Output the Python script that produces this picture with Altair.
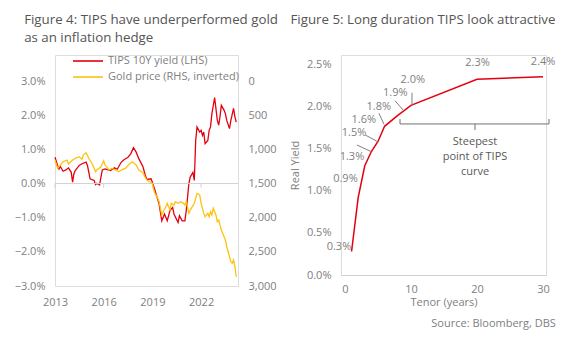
import altair as alt
import pandas as pd

FONT = "Open Sans"
RED = "#E3000F"
GOLD = "#FFC20E"
TXT = "#808080"
TITLE_C = "#555555"
AXIS_C = "#d0d0d0"

# ---------------- Figure 4 data ----------------
tips_dates = ["2013-01", "2013-03", "2013-04", "2013-05", "2013-07", "2013-09", "2013-11",
              "2014-01", "2014-02", "2014-03", "2014-04", "2014-07", "2014-09", "2014-12",
              "2015-01", "2015-02", "2015-03", "2015-06", "2015-07", "2015-08", "2015-10",
              "2015-11", "2015-12", "2016-02", "2016-06", "2016-09", "2016-11",
              "2017-02", "2017-04", "2017-07", "2017-09", "2017-11",
              "2018-01", "2018-03", "2018-06", "2018-08", "2018-09", "2018-12",
              "2019-01", "2019-03", "2019-06", "2019-08", "2019-10", "2019-12",
              "2020-02", "2020-04", "2020-05", "2020-08", "2020-09", "2020-11",
              "2021-01", "2021-02", "2021-04", "2021-05", "2021-07", "2021-08", "2021-09",
              "2021-10", "2021-12", "2022-01", "2022-02", "2022-03", "2022-04", "2022-06",
              "2022-07", "2022-08", "2022-09", "2022-11",
              "2023-01", "2023-02", "2023-03", "2023-04", "2023-06", "2023-07", "2023-08",
              "2023-10", "2023-11", "2024-01", "2024-02", "2024-03"]
tips_yield = [0.77, 0.53, 0.43, 0.50, 0.36, 0.40, 0.46,
              0.33, 0.04, 0.28, 0.38, 0.53, 0.58, 0.63,
              0.53, 0.33, 0.14, 0.09, -0.03, 0.01, -0.04,
              0.19, 0.40, 0.43, 0.38, 0.46, 0.42,
              0.63, 0.70, 0.77, 0.87, 1.05,
              0.92, 0.73, 0.50, 0.21, 0.12, 0.14,
              0.04, -0.20, -0.60, -1.09, -0.89, -1.09,
              -0.79, -0.70, -0.89, -1.14, -0.94, -1.09,
              -1.09, -0.79, 0.00, 0.19, 0.33, 0.09, 1.26,
              1.66, 1.51, 1.56, 1.41, 1.51, 1.17, 1.26,
              1.56, 1.66, 2.05, 2.52,
              1.85, 1.71, 1.95, 2.29, 2.15, 2.05, 1.85,
              1.61, 1.85, 2.20, 1.95, 1.80]

gold_dates = ["2013-01", "2013-03", "2013-05", "2013-07", "2013-10", "2013-11",
              "2014-02", "2014-04", "2014-07", "2014-09", "2014-10", "2014-12",
              "2015-02", "2015-05", "2015-07", "2015-08", "2015-11",
              "2016-01", "2016-02", "2016-05", "2016-07", "2016-10", "2016-12",
              "2017-03", "2017-05", "2017-08", "2017-10",
              "2018-01", "2018-03", "2018-06", "2018-08", "2018-09",
              "2019-01", "2019-02", "2019-03", "2019-05", "2019-06", "2019-07", "2019-08",
              "2019-09", "2019-11", "2019-12",
              "2020-02", "2020-03", "2020-05", "2020-06", "2020-08", "2020-10", "2020-12",
              "2021-01", "2021-02", "2021-04", "2021-05", "2021-08", "2021-10", "2021-12",
              "2022-01", "2022-02", "2022-03", "2022-04", "2022-06", "2022-07", "2022-08",
              "2022-09", "2022-10", "2022-12",
              "2023-01", "2023-02", "2023-04", "2023-07", "2023-08", "2023-11", "2023-12",
              "2024-01", "2024-02", "2024-03"]
gold_price = [1156, 1278, 1229, 1181, 1156, 1215,
              1156, 1131, 1107, 1146, 1083, 1049,
              1131, 1229, 1327, 1302, 1254,
              1166, 1229, 1302, 1278, 1302, 1327,
              1293, 1278, 1215, 1181,
              1229, 1302, 1340, 1420, 1449,
              1498, 1595, 1644, 1717, 1766, 1863, 1961,
              1912, 1839, 1790,
              1888, 1790, 1815, 1766, 1790, 1766, 1790,
              1815, 1766, 1937, 1888, 1790, 1644, 1668,
              1790, 1863, 1937, 1986, 1937, 1986, 1912,
              1961, 1863, 1961,
              2059, 2034, 2181, 2327, 2425, 2644, 2668,
              2620, 2717, 2864]

x_tick_years = [2013, 2016, 2019, 2022]
tips_ticks = [-3, -2, -1, 0, 1, 2, 3]
gold_ticks = [0, 500, 1000, 1500, 2000, 2500, 3000]

# ---------------- Figure 5 data ----------------
tenor = [1, 2, 3, 4, 5, 6, 8, 10, 20, 30]
real_yield = [0.28, 0.92, 1.30, 1.47, 1.59, 1.77, 1.90, 2.02, 2.33, 2.36]
yield_labels = ["0.3%", "0.9%", "1.3%", "1.5%", "1.6%", "1.8%", "1.9%", "2.0%", "2.3%", "2.4%"]
tenor_ticks = [0, 5, 10, 15, 20, 25, 30]
ry_ticks = [0, 0.5, 1.0, 1.5, 2.0, 2.5]

# ---------------- layout / annotation settings ----------------
WL, HL = 183, 231
XL_DOMAIN = [alt.DateTime(year=2013, month=1, date=1), alt.DateTime(year=2024, month=4, date=10)]
YL_DOMAIN = [-3, 3.765]
GL_DOMAIN = [-382, 3000]

WR, HR = 205, 220
XR_DOMAIN = [-0.6, 30.45]
YR_DOMAIN = [0, 2.619]
PX_T = WR / (XR_DOMAIN[1] - XR_DOMAIN[0])
PX_Y = HR / (YR_DOMAIN[1] - YR_DOMAIN[0])

# label offsets from their point, in pixels (screen y down)
label_dx = [-12.6, -12.7, -12.8, -17.3, -14.2, -5.8, -2.5, 1.8, 0.6, 0.1]
label_dy = [-4.5, -18.7, -8.8, -18.5, -21.4, -19.3, -22.4, -25.3, -16.0, -14.8]
# leader lines: (point index, start dx, start dy, end dx, end dy) in pixels
leaders = [(2, -7.8, -20.8, 6.5, -14.1), (3, -6.0, -16.5, 6.4, -9.8),
           (5, -5.6, -13.0, -0.6, -2.0), (6, -2.8, -14.7, 5.9, -4.7),
           (7, 1.0, -12.6, 1.0, -0.3)]
bracket_x = (8.34, 19.7, 30.9)
bracket_y = (1.798, 1.857, 1.726)
note_pos = (19.7, 1.587)

# ---------------- Figure 4 ----------------
tips_df = pd.DataFrame({"date": tips_dates, "v": tips_yield, "series": "TIPS 10Y yield (LHS)"})
gold_df = pd.DataFrame({"date": gold_dates, "v": gold_price, "series": "Gold price (RHS, inverted)"})
series_names = ["TIPS 10Y yield (LHS)", "Gold price (RHS, inverted)"]

xs = alt.Scale(domain=XL_DOMAIN)
ysl = alt.Scale(domain=YL_DOMAIN, nice=False, zero=False)
ysg = alt.Scale(domain=GL_DOMAIN, nice=False, zero=False, reverse=True)
color = alt.Color("series:N", scale=alt.Scale(domain=series_names, range=[RED, GOLD]),
                  legend=alt.Legend(title=None, orient="none", legendX=17, legendY=-2,
                                    symbolType="stroke", symbolSize=900, symbolStrokeWidth=1.6,
                                    labelFontSize=11, labelColor=TXT, labelFont=FONT,
                                    labelOffset=4, clipHeight=16, rowPadding=0, padding=0))

x_axis = alt.Axis(values=[alt.DateTime(year=y, month=1, date=1) for y in x_tick_years],
                  format="%Y", domain=False, ticks=False, grid=False, labelPadding=10,
                  labelFlush=False, title=None, labelColor=TXT, labelFontSize=11, labelFont=FONT)
yl_axis = alt.Axis(values=tips_ticks, labelExpr="format(datum.value, '.1f') + '%'",
                   domain=False, ticks=False, grid=False, title=None,
                   labelPadding=10, labelColor=TXT, labelFontSize=11, labelFont=FONT)
yg_axis = alt.Axis(orient="right", values=gold_ticks, labelExpr="format(datum.value, ',')",
                   domain=False, ticks=False, grid=False, title=None,
                   labelPadding=10, labelColor=TXT, labelFontSize=11, labelFont=FONT)

red_line = alt.Chart(tips_df).mark_line(strokeWidth=1.3).encode(
    x=alt.X("date:T", scale=xs, axis=x_axis),
    y=alt.Y("v:Q", scale=ysl, axis=yl_axis),
    color=color)

zero_df = pd.DataFrame({"year": [str(y) + "-01-01" for y in x_tick_years]})
zero_rule = alt.Chart(pd.DataFrame({"a": [0]})).mark_rule(color=AXIS_C, strokeWidth=1).encode(
    x=alt.value(0), x2=alt.value(WL), y=alt.Y("a:Q", scale=ysl, axis=yl_axis))
zero_ticks = alt.Chart(zero_df).transform_calculate(a="0", b="-0.12").mark_rule(color=AXIS_C).encode(
    x=alt.X("year:T", scale=xs, axis=x_axis), y=alt.Y("a:Q", scale=ysl, axis=yl_axis), y2="b:Q")

gold_line = alt.Chart(gold_df).mark_line(strokeWidth=1.3).encode(
    x=alt.X("date:T", scale=xs, axis=x_axis),
    y=alt.Y("v:Q", scale=ysg, axis=yg_axis),
    color=color)

left = alt.layer(
    alt.layer(red_line, zero_rule, zero_ticks),
    gold_line,
).resolve_scale(y="independent").properties(
    width=WL, height=HL,
    title=alt.TitleParams(["Figure 4: TIPS have underperformed gold", "as an inflation hedge"],
                          anchor="start", fontSize=13.3, font=FONT, fontWeight="normal",
                          color=TITLE_C, offset=11, dx=10, lineHeight=18))

# ---------------- Figure 5 ----------------
curve_df = pd.DataFrame({"t": tenor, "y": real_yield, "lab": yield_labels})
curve_df["lx"] = [t + dx / PX_T for t, dx in zip(tenor, label_dx)]
curve_df["ly"] = [y - dy / PX_Y for y, dy in zip(real_yield, label_dy)]

lead_rows = []
for i, sx, sy, ex, ey in leaders:
    lead_rows.append({"x": tenor[i] + sx / PX_T, "y": real_yield[i] - sy / PX_Y,
                      "x2": tenor[i] + ex / PX_T, "y2": real_yield[i] - ey / PX_Y})
lead_df = pd.DataFrame(lead_rows)

bl, bc, br = bracket_x
yb, yup, ydn = bracket_y
brk_df = pd.DataFrame([
    {"x": bl, "y": yb, "x2": br, "y2": yb},
    {"x": bl, "y": yb, "x2": bl, "y2": yup},
    {"x": br, "y": yb, "x2": br, "y2": yup},
    {"x": bc, "y": yb, "x2": bc, "y2": ydn},
])
note_df = pd.DataFrame({"x": [note_pos[0]], "y": [note_pos[1]],
                        "txt": ["Steepest\npoint of TIPS\ncurve"]})

xsr = alt.Scale(domain=XR_DOMAIN, nice=False, zero=False)
ysr = alt.Scale(domain=YR_DOMAIN, nice=False, zero=False)

curve = alt.Chart(curve_df).mark_line(color=RED, strokeWidth=1.5).encode(
    x=alt.X("t:Q", scale=xsr, axis=alt.Axis(values=tenor_ticks, domain=True, domainColor=AXIS_C,
                                             ticks=False, grid=False, title="Tenor (years)",
                                             labelPadding=8, titlePadding=2, labelColor=TXT,
                                             titleColor=TXT, labelFontSize=11, titleFontSize=11,
                                             titleFontWeight="normal", labelFont=FONT, titleFont=FONT)),
    y=alt.Y("y:Q", scale=ysr, axis=alt.Axis(values=ry_ticks, labelExpr="format(datum.value, '.1f') + '%'",
                                             domain=False, ticks=False, grid=False, title="Real Yield",
                                             labelPadding=10, titlePadding=6, labelColor=TXT, titleColor=TXT,
                                             labelFontSize=11, titleFontSize=11, titleFontWeight="normal",
                                             labelFont=FONT, titleFont=FONT)))

labels = alt.Chart(curve_df).mark_text(font=FONT, fontSize=11, color=TXT, align="center",
                                       baseline="middle").encode(
    x=alt.X("lx:Q", scale=xsr), y=alt.Y("ly:Q", scale=ysr), text="lab:N")

lead = alt.Chart(lead_df).mark_rule(color=TXT, strokeWidth=1).encode(
    x=alt.X("x:Q", scale=xsr), y=alt.Y("y:Q", scale=ysr), x2="x2:Q", y2="y2:Q")

brk = alt.Chart(brk_df).mark_rule(color="#707070", strokeWidth=1).encode(
    x=alt.X("x:Q", scale=xsr), y=alt.Y("y:Q", scale=ysr), x2="x2:Q", y2="y2:Q")

note = alt.Chart(note_df).mark_text(font=FONT, fontSize=11, color="#595959", align="center",
                                    baseline="middle", lineBreak="\n", lineHeight=15).encode(
    x=alt.X("x:Q", scale=xsr), y=alt.Y("y:Q", scale=ysr), text="txt:N")

right = alt.layer(curve, lead, labels, brk, note).properties(
    width=WR, height=HR,
    title=alt.TitleParams("Figure 5: Long duration TIPS look attractive",
                          anchor="start", fontSize=13.3, font=FONT, fontWeight="normal",
                          color=TITLE_C, offset=29, dx=1, lineHeight=18))

chart = alt.hconcat(left, right, spacing=9).properties(
    padding={"left": 13, "top": 12, "right": 5, "bottom": 5},
    title=alt.TitleParams("Source: Bloomberg, DBS", orient="bottom", anchor="end", fontSize=11,
                          font=FONT, fontWeight="normal", color=TXT, offset=10, dx=0),
).configure_view(stroke=None).configure(font=FONT)

chart.save("out.html", embed_options={"renderer": "svg", "actions": False})
